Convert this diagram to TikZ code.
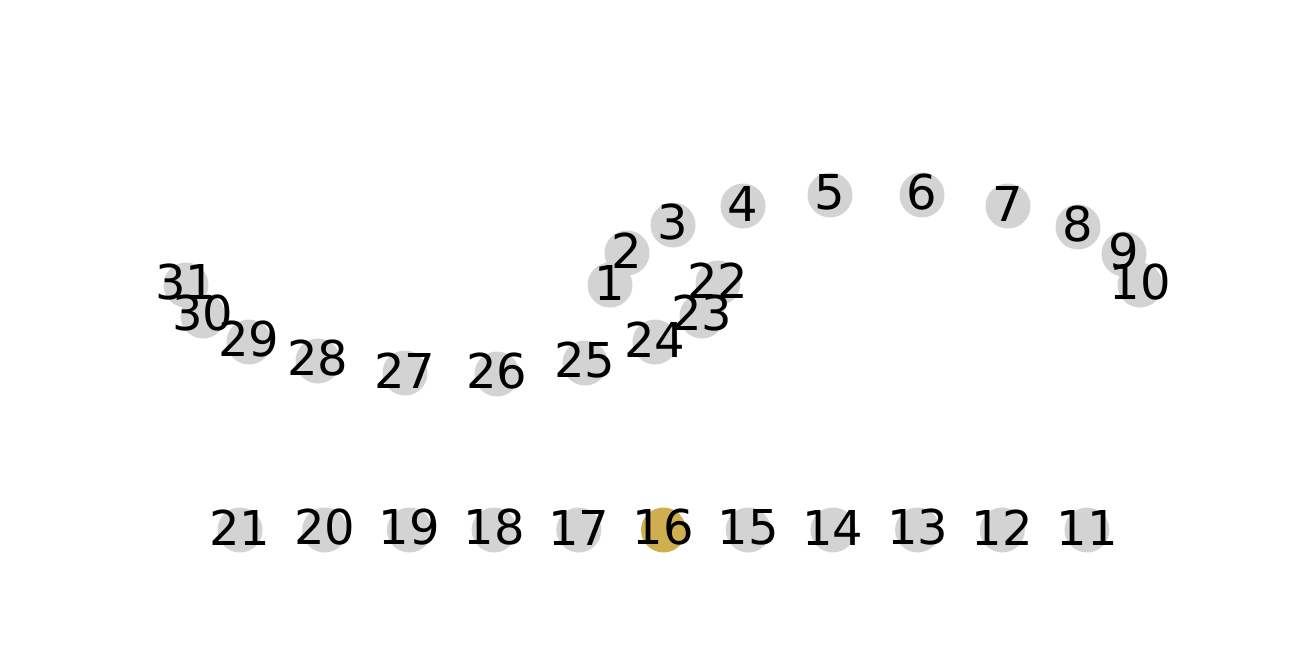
\documentclass[tikz,border=0pt]{standalone}
\usepackage{fontspec}
\setmainfont{DejaVu Sans}
\definecolor{dotgrey}{RGB}{211,211,211}
\definecolor{dotgold}{RGB}{207,174,80}
\begin{document}
\begin{tikzpicture}[x=1pt,y=-1pt,
  dot/.style={circle,fill=dotgrey,draw=none,minimum size=45pt,inner sep=0pt},
  golddot/.style={dot,fill=dotgold},
  lbl/.style={inner sep=0pt,font=\fontsize{48}{48}\selectfont,yshift=2.5pt}]
\useasboundingbox (0,0) rectangle (1316,664);
% circles
\foreach \n/\x/\y in {1/610/285,2/627/253,3/673/225,4/743/206,5/830/195,6/922/195,7/1008/206,8/1078/227,9/1124/254,10/1140/285,
  22/718/283,23/702/316,24/655/342,25/585/363,26/497/374,27/405/373,28/318/361,29/249/342,30/203/316,31/186/285}
  {\node[dot] (n\n) at (\x,\y) {};}
\foreach \n in {11,12,13,14,15,17,18,19,20,21}
  {\pgfmathsetmacro{\xx}{240+84.7*(21-\n)}
   \node[dot] (n\n) at (\xx,530) {};}
\node[golddot] (n16) at (663.5,530) {};
% labels
\foreach \n in {1,...,31}
  {\node[lbl] at (n\n) {\n};}
\end{tikzpicture}
\end{document}
